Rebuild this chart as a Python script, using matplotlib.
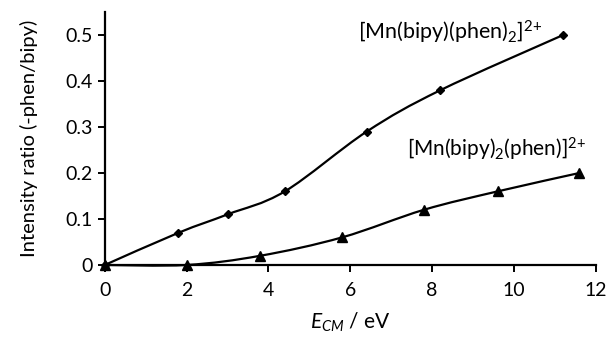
import matplotlib
matplotlib.use("AGG")
import numpy as np
import matplotlib.pyplot as plt
from matplotlib.path import Path
from matplotlib.patches import PathPatch

plt.rcParams['font.family'] = ['Lato', 'DejaVu Sans']
plt.rcParams['mathtext.fontset'] = 'custom'
plt.rcParams['mathtext.rm'] = 'Lato'
plt.rcParams['mathtext.it'] = 'Lato:italic'

# [Mn(bipy)(phen)2]2+
x_phen2 = [0, 1.8, 3.0, 4.4, 6.4, 8.2, 11.2]
y_phen2 = [0, 0.07, 0.11, 0.16, 0.29, 0.38, 0.50]
# [Mn(bipy)2(phen)]2+
x_bipy2 = [0, 2.0, 3.8, 5.8, 7.8, 9.6, 11.6]
y_bipy2 = [0, 0.0, 0.02, 0.06, 0.12, 0.16, 0.20]

label_phen2 = r'[Mn(bipy)(phen)$_2$]$^{2{+}}$'
label_bipy2 = r'[Mn(bipy)$_2$(phen)]$^{2{+}}$'


def smooth_path(xs, ys):
    # Excel-style smoothed line: cubic Bezier segments through the points
    p = np.column_stack([xs, ys]).astype(float)
    verts = [p[0]]
    codes = [Path.MOVETO]
    n = len(p)
    for i in range(n - 1):
        p0 = p[i - 1] if i > 0 else p[i]
        p3 = p[i + 2] if i + 2 < n else p[i + 1]
        c1 = p[i] + (p[i + 1] - p0) / 6.0
        c2 = p[i + 1] - (p3 - p[i]) / 6.0
        verts += [c1, c2, p[i + 1]]
        codes += [Path.CURVE4] * 3
    return Path(verts, codes)


fig = plt.figure(figsize=(6.06, 3.45), dpi=100)
ax = fig.add_axes([0.173, 0.232, 0.81, 0.733])

for xs, ys, m, ms in [(x_phen2, y_phen2, 'D', 4.5), (x_bipy2, y_bipy2, '^', 7)]:
    ax.add_patch(PathPatch(smooth_path(xs, ys), facecolor='none',
                           edgecolor='black', lw=1.6, clip_on=False))
    ax.plot(xs, ys, ls='none', marker=m, ms=ms, color='black', clip_on=False)

ax.text(6.2, 0.505, label_phen2, fontsize=15.5, va='center', ha='left')
ax.text(7.38, 0.252, label_bipy2, fontsize=15, va='center', ha='left')

ax.set_xlim(0, 12)
ax.set_ylim(0, 0.55)
ax.set_xticks([0, 2, 4, 6, 8, 10, 12])
ax.set_yticks([0, 0.1, 0.2, 0.3, 0.4, 0.5])
ax.set_yticklabels(['0', '0.1', '0.2', '0.3', '0.4', '0.5'])
for s in ['top', 'right']:
    ax.spines[s].set_visible(False)
for s in ['left', 'bottom']:
    ax.spines[s].set_linewidth(1.6)
ax.tick_params(width=1.4, length=5, labelsize=14)
ax.tick_params(axis='x', pad=7)

ax.set_xlabel(r'$E_{CM}$ / eV', fontsize=15, labelpad=9)
ax.set_ylabel('Intensity ratio (-phen/bipy)', fontsize=14.5, labelpad=20)

plt.savefig('out.png', dpi=100)
